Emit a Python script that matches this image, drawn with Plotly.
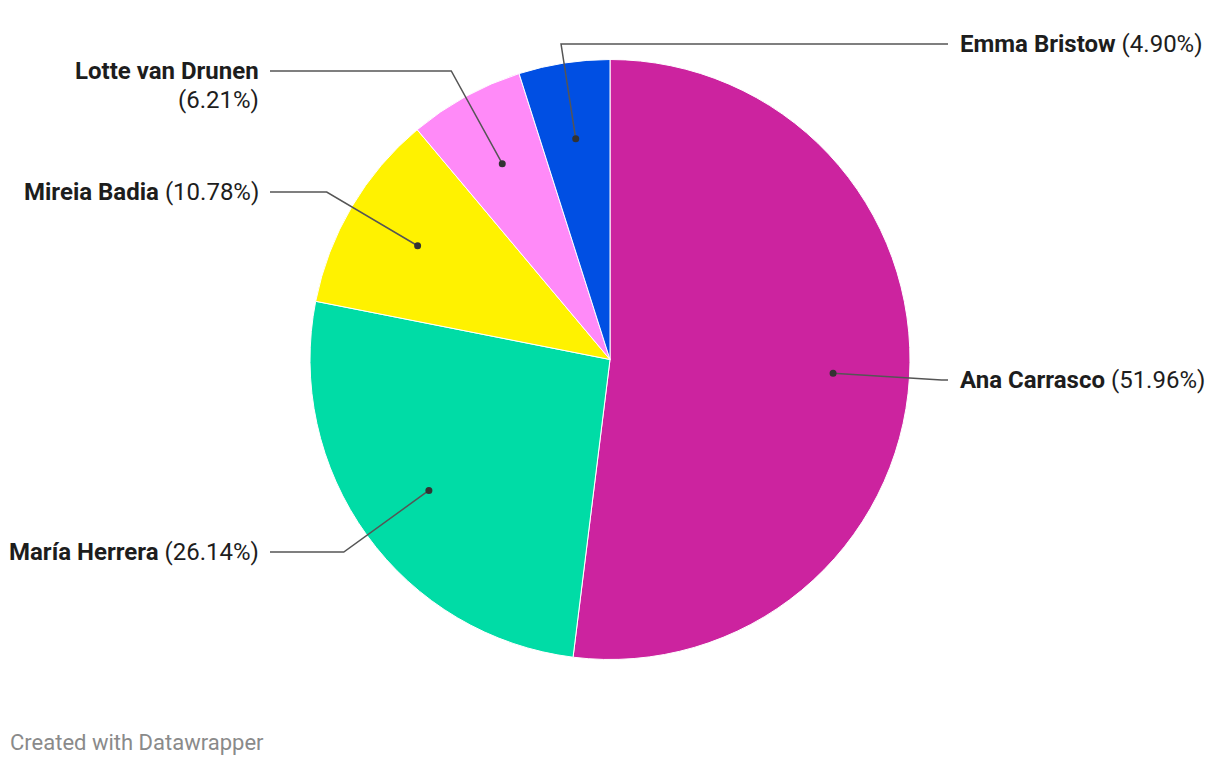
import math
import plotly.graph_objects as go

# ---- data ----
names = ["Ana Carrasco", "María Herrera", "Mireia Badia", "Lotte van Drunen", "Emma Bristow"]
shares = [51.96, 26.14, 10.78, 6.21, 4.90]
colors = ["#cc239f", "#00dca6", "#fff200", "#ff8af8", "#004fe3"]

# ---- layout constants (screen pixels) ----
PAGE_OFF = 8            # default body margin of the html page
W, H = 1220 - PAGE_OFF, 766 - PAGE_OFF
CX, CY, R = 610, 359.5, 300
DOT_R = 0.745 * R
label_side = ["right", "left", "left", "left", "right"]
label_y = [380, 552, 192, 71, 44]
LEFT_TEXT_X, LEFT_LINE_X = 261, 270
RIGHT_TEXT_X, RIGHT_LINE_X = 958, 948
FONT = "Roboto, Arial, sans-serif"
FS = 24


def px(x):
    return (x - PAGE_OFF) / W


def py(y):
    return 1 - (y - PAGE_OFF) / H


fig = go.Figure()
fig.add_trace(go.Pie(
    labels=names, values=shares, sort=False, direction="clockwise", rotation=0,
    marker=dict(colors=colors, line=dict(color="white", width=1)),
    textinfo="none", hoverinfo="label+percent", showlegend=False,
    domain=dict(x=[px(CX - R), px(CX + R)], y=[py(CY + R), py(CY - R)]),
))

total = sum(shares)
cum = 0
shapes = []
annotations = []
for i, (name, v) in enumerate(zip(names, shares)):
    mid = (cum + v / 2) / total * 2 * math.pi
    cum += v
    sx, sy = math.sin(mid), -math.cos(mid)
    dx, dy = CX + DOT_R * sx, CY + DOT_R * sy
    ly = label_y[i]
    t = (ly - CY) / sy if abs(sy) > 1e-6 else DOT_R
    ex, ey = CX + t * sx, ly
    side = label_side[i]
    endx = RIGHT_LINE_X if side == "right" else LEFT_LINE_X
    if side == "right" and ex > endx:
        ex = endx
    if side == "left" and ex < endx:
        ex = endx
    path = f"M {px(dx)},{py(dy)} L {px(ex)},{py(ey)} L {px(endx)},{py(ly)}"
    shapes.append(dict(type="path", xref="paper", yref="paper", path=path,
                       line=dict(color="#555555", width=1.5), layer="above"))
    rr = 3.5
    shapes.append(dict(type="circle", xref="paper", yref="paper",
                       x0=px(dx - rr), x1=px(dx + rr), y0=py(dy + rr), y1=py(dy - rr),
                       fillcolor="#333333", line=dict(width=0), layer="above"))
    pct = f"({v:.2f}%)"
    if name == "Lotte van Drunen":
        annotations.append(dict(x=px(LEFT_TEXT_X), y=py(ly), xref="paper", yref="paper",
                                text=f"<b>{name}</b>", showarrow=False, xanchor="right",
                                yanchor="middle", font=dict(family=FONT, size=FS, color="#1d1d1d")))
        annotations.append(dict(x=px(LEFT_TEXT_X), y=py(ly + 29), xref="paper", yref="paper",
                                text=pct, showarrow=False, xanchor="right",
                                yanchor="middle", font=dict(family=FONT, size=FS, color="#1d1d1d")))
    else:
        x = RIGHT_TEXT_X if side == "right" else LEFT_TEXT_X
        annotations.append(dict(x=px(x), y=py(ly), xref="paper", yref="paper",
                                text=f"<b>{name}</b> {pct}", showarrow=False,
                                xanchor="left" if side == "right" else "right",
                                yanchor="middle", font=dict(family=FONT, size=FS, color="#1d1d1d")))

annotations.append(dict(x=px(8), y=py(742), xref="paper", yref="paper",
                        text="Created with Datawrapper", showarrow=False, xanchor="left",
                        yanchor="middle", font=dict(family=FONT, size=22, color="#8a8a8a")))

fig.update_layout(
    width=W, height=H, margin=dict(l=0, r=0, t=0, b=0),
    paper_bgcolor="white", plot_bgcolor="white",
    shapes=shapes, annotations=annotations,
)
fig.write_html("out.html")
